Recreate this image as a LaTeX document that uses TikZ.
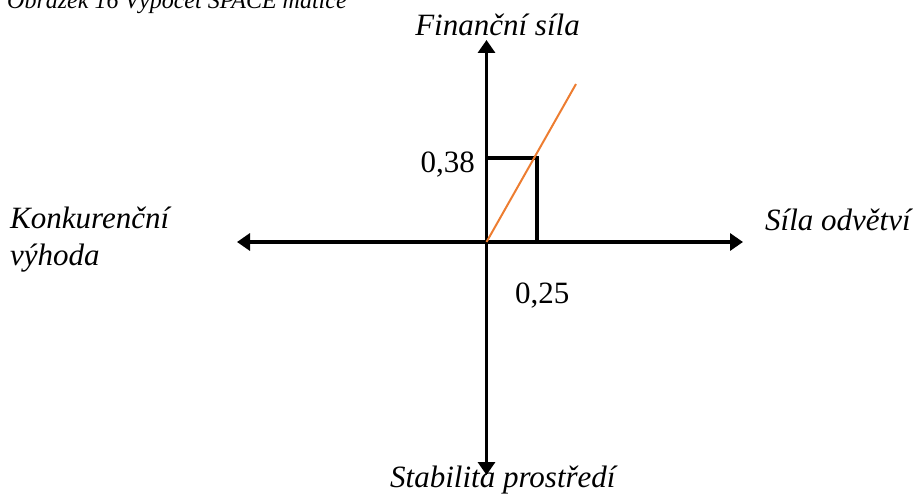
\documentclass[tikz,border=0pt]{standalone}
\usepackage{fontspec}
\setmainfont{Liberation Serif}
\usetikzlibrary{arrows.meta}
\definecolor{lineorange}{HTML}{ED7D31}
\tikzset{
  axisline/.style={line width=3.5pt,-{Triangle[width=17pt,length=13pt]}},
  guideline/.style={line width=3.4pt},
  trendline/.style={line width=2pt,color=lineorange},
  lbltext/.style={inner sep=0pt,font=\fontsize{31}{37}\selectfont\itshape},
  numtext/.style={inner sep=0pt,font=\fontsize{31}{37}\selectfont},
  captext/.style={inner sep=0pt,font=\fontsize{24}{28}\selectfont\itshape}
}
\begin{document}
\begin{tikzpicture}[x=1pt,y=-1pt]
\useasboundingbox (0,0) rectangle (920,497);
\clip (0,0) rectangle (920,497);
% caption (clipped at top)
\node[captext,anchor=base west] (caption) at (7,9) {Obrázek 16 Výpočet SPACE matice};
% axes
\coordinate (O) at (486.5,242);
\coordinate (T) at (486.5,40);
\coordinate (B) at (486.5,475);
\coordinate (L) at (237,242);
\coordinate (R) at (743,242);
\draw[axisline] (O) -- (T);
\draw[axisline] (O) -- (B);
\draw[axisline] (O) -- (L);
\draw[axisline] (O) -- (R);
% guides
\coordinate (Y) at (486.5,158);
\coordinate (P) at (537,158);
\coordinate (X) at (537,242);
\draw[guideline,line cap=rect] (Y) -- (P) -- (X);
% trend line
\coordinate (E) at (576,84);
\draw[trendline] (O) -- (E);
% labels
\node[lbltext,anchor=base] (fin) at (497.5,36) {Finanční síla};
\node[lbltext,anchor=base west] (stab) at (390,487) {Stabilita prostředí};
\node[lbltext,anchor=base west] (konk) at (10,228) {Konkurenční};
\node[lbltext,anchor=base west] (vyh) at (10,265) {výhoda};
\node[lbltext,anchor=base west] (sila) at (765,230) {Síla odvětví};
\node[numtext,anchor=base east] (v38) at (475,172) {0,38};
\node[numtext,anchor=base west] (v25) at (515,303) {0,25};
\end{tikzpicture}
\end{document}
